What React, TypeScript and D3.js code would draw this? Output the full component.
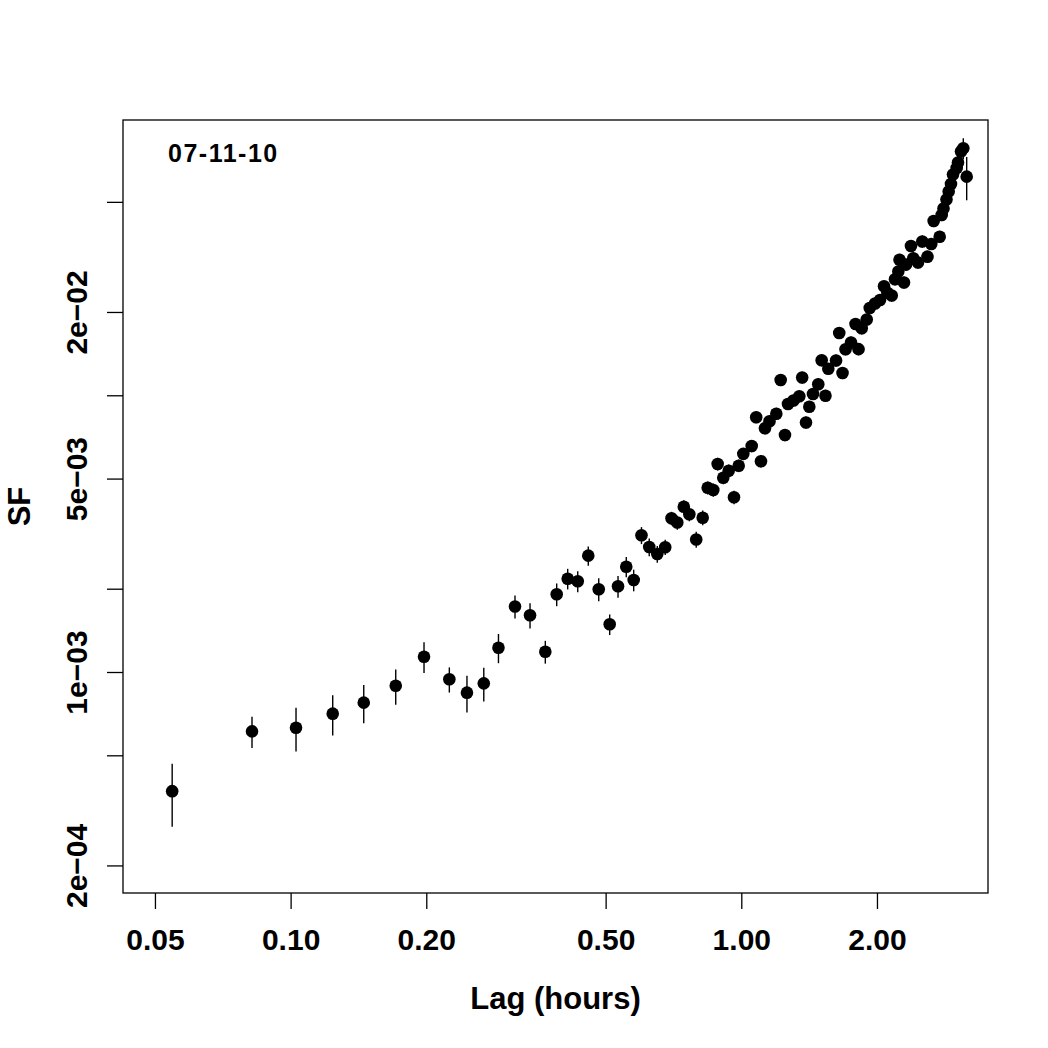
import React, { useEffect, useRef } from 'react';
import * as d3 from 'd3';

// lag in hours, structure function value and its error
const lagHours = [
  0.0546, 0.0821, 0.1028, 0.124, 0.1453, 0.1711, 0.1977, 0.225, 0.2462, 0.2683,
  0.2892, 0.3147, 0.3398, 0.3674, 0.3894, 0.4119, 0.4336, 0.4576, 0.4827, 0.5105,
  0.5327, 0.5556, 0.5771, 0.6005, 0.6248, 0.651, 0.6779, 0.7001, 0.7211, 0.7455,
  0.7668, 0.7943, 0.8211, 0.8423, 0.8667, 0.8862, 0.912, 0.9376, 0.9634, 0.9868,
  1.0103, 1.0546, 1.0791, 1.1058, 1.1287, 1.1551, 1.1959, 1.2229, 1.2501, 1.2694,
  1.3055, 1.3449, 1.365, 1.3918, 1.4155, 1.4425, 1.4818, 1.5078, 1.5374, 1.5597,
  1.6226, 1.6494, 1.6774, 1.7033, 1.7518, 1.7925, 1.8202, 1.8502, 1.8981, 1.9274,
  1.9803, 2.0315, 2.0735, 2.1087, 2.1567, 2.1933, 2.2306, 2.2443, 2.2961, 2.3197,
  2.3797, 2.4078, 2.4663, 2.5211, 2.5889, 2.6397, 2.6722, 2.7555, 2.7838, 2.8096,
  2.853, 2.8852, 2.9193, 2.9493, 3.0056, 3.0256, 3.0724, 3.1087, 3.1631,
];

const sfValues = [
  3.71e-4, 6.1e-4, 6.29e-4, 7.07e-4, 7.75e-4, 8.92e-4, 1.136e-3, 9.41e-4, 8.42e-4, 9.1e-4,
  1.224e-3, 1.725e-3, 1.603e-3, 1.184e-3, 1.909e-3, 2.174e-3, 2.127e-3, 2.633e-3, 1.99e-3, 1.487e-3,
  2.04e-3, 2.402e-3, 2.15e-3, 3.119e-3, 2.829e-3, 2.669e-3, 2.825e-3, 3.592e-3, 3.469e-3, 3.956e-3,
  3.714e-3, 3.012e-3, 3.611e-3, 4.634e-3, 4.546e-3, 5.645e-3, 5.037e-3, 5.339e-3, 4.279e-3, 5.565e-3,
  6.143e-3, 6.555e-3, 8.327e-3, 5.778e-3, 7.6e-3, 8.054e-3, 8.58e-3, 1.1357e-2, 7.188e-3, 9.3e-3,
  9.576e-3, 9.915e-3, 1.1595e-2, 7.975e-3, 9.095e-3, 1.0109e-2, 1.0963e-2, 1.3383e-2, 9.966e-3, 1.2463e-2,
  1.3362e-2, 1.6796e-2, 1.2035e-2, 1.4664e-2, 1.5517e-2, 1.8098e-2, 1.4677e-2, 1.7459e-2, 1.8785e-2, 2.0676e-2,
  2.1466e-2, 2.2101e-2, 2.4768e-2, 2.3484e-2, 2.2944e-2, 2.6252e-2, 2.8015e-2, 3.0903e-2, 2.5562e-2, 2.9648e-2,
  3.4645e-2, 3.1265e-2, 3.019e-2, 3.5963e-2, 3.1686e-2, 3.5226e-2, 4.2651e-2, 3.742e-2, 4.4834e-2, 4.7326e-2,
  5.0991e-2, 5.4525e-2, 5.8022e-2, 6.2806e-2, 6.6299e-2, 6.9396e-2, 7.6043e-2, 7.8096e-2, 6.166e-2,
];

const sfErrors = [
  0.95e-4, 0.79e-4, 1.13e-4, 1.17e-4, 1.22e-4, 1.3e-4, 1.45e-4, 0.98e-4, 1.28e-4, 1.27e-4,
  1.48e-4, 1.65e-4, 1.68e-4, 1.12e-4, 1.8e-4, 1.86e-4, 1.85e-4, 2.1e-4, 1.9e-4, 1.27e-4,
  1.85e-4, 2.0e-4, 1.93e-4, 2.2e-4, 2.1e-4, 1.85e-4, 1.8e-4, 2.0e-4, 2.0e-4, 2.2e-4,
  2.1e-4, 2.0e-4, 2.2e-4, 2.5e-4, 2.5e-4, 3.0e-4, 2.7e-4, 2.8e-4, 2.4e-4, 2.9e-4,
  3.1e-4, 3.3e-4, 4.1e-4, 3.0e-4, 3.8e-4, 4.0e-4, 4.3e-4, 5.6e-4, 3.6e-4, 4.6e-4,
  4.8e-4, 5.0e-4, 5.8e-4, 4.0e-4, 4.5e-4, 5.0e-4, 5.5e-4, 6.7e-4, 5.0e-4, 6.2e-4,
  6.7e-4, 8.4e-4, 6.0e-4, 7.3e-4, 7.8e-4, 9.0e-4, 7.3e-4, 8.7e-4, 9.4e-4, 1.03e-3,
  1.07e-3, 1.1e-3, 1.24e-3, 1.17e-3, 1.15e-3, 1.31e-3, 1.4e-3, 1.55e-3, 1.28e-3, 1.48e-3,
  1.73e-3, 1.56e-3, 1.51e-3, 1.8e-3, 1.58e-3, 1.76e-3, 2.13e-3, 1.87e-3, 2.24e-3, 2.37e-3,
  2.55e-3, 2.73e-3, 2.9e-3, 3.14e-3, 3.6e-3, 4.0e-3, 4.6e-3, 6.8e-3, 1.1e-2,
];

const xLimits = [0.04247, 3.527];
const yLimits = [1.59e-4, 0.0988];
const xTicks = [0.05, 0.1, 0.2, 0.5, 1, 2];
const xTickLabels = ['0.05', '0.10', '0.20', '0.50', '1.00', '2.00'];
const yTicks = [2e-4, 5e-4, 1e-3, 2e-3, 5e-3, 1e-2, 2e-2, 5e-2];
const yTickLabels = ['2e\u221204', '', '1e\u221203', '', '5e\u221203', '', '2e\u221202', ''];

const plotTag = '07-11-10';
const xTitle = 'Lag (hours)';
const yTitle = 'SF';

function App() {
  const svgRef = useRef(null);

  useEffect(() => {
    const width = 1048;
    const height = 1048;
    const margin = { top: 120, right: 60, bottom: 155, left: 123 };
    const font = '"Liberation Sans", Arial, Helvetica, sans-serif';

    const svg = d3.select(svgRef.current);
    svg.selectAll('*').remove();
    svg.attr('width', width).attr('height', height);

    svg.append('rect')
      .attr('width', width)
      .attr('height', height)
      .attr('fill', '#fff');

    const x = d3.scaleLog()
      .domain(xLimits)
      .range([margin.left, width - margin.right]);

    const y = d3.scaleLog()
      .domain(yLimits)
      .range([height - margin.bottom, margin.top]);

    const data = lagHours.map((d, i) => ({ x: d, y: sfValues[i], e: sfErrors[i] }));

    // error bars
    svg.append('g')
      .selectAll('line')
      .data(data)
      .enter()
      .append('line')
      .attr('x1', d => x(d.x))
      .attr('x2', d => x(d.x))
      .attr('y1', d => y(d.y + d.e))
      .attr('y2', d => y(Math.max(d.y - d.e, yLimits[0])))
      .attr('stroke', '#000')
      .attr('stroke-width', 1.4);

    svg.append('g')
      .selectAll('circle')
      .data(data)
      .enter()
      .append('circle')
      .attr('cx', d => x(d.x))
      .attr('cy', d => y(d.y))
      .attr('r', 6.3)
      .attr('fill', '#000');

    // box
    svg.append('rect')
      .attr('x', margin.left)
      .attr('y', margin.top)
      .attr('width', width - margin.left - margin.right)
      .attr('height', height - margin.top - margin.bottom)
      .attr('fill', 'none')
      .attr('stroke', '#000')
      .attr('stroke-width', 1.3);

    const xAxis = svg.append('g')
      .attr('transform', `translate(0,${height - margin.bottom})`)
      .call(d3.axisBottom(x)
        .tickValues(xTicks)
        .tickFormat((d, i) => xTickLabels[i])
        .tickSize(16)
        .tickPadding(20));
    xAxis.select('.domain').remove();
    xAxis.selectAll('line').attr('stroke-width', 1.3);
    xAxis.selectAll('text')
      .attr('font-family', font)
      .attr('font-weight', 'bold')
      .attr('font-size', 30)
      .attr('fill', '#000');

    const yAxis = svg.append('g')
      .attr('transform', `translate(${margin.left},0)`)
      .call(d3.axisLeft(y)
        .tickValues(yTicks)
        .tickFormat((d, i) => yTickLabels[i])
        .tickSize(16)
        .tickPadding(0));
    yAxis.select('.domain').remove();
    yAxis.selectAll('line').attr('stroke-width', 1.3);
    yAxis.selectAll('text')
      .attr('x', null)
      .attr('dy', null)
      .attr('transform', 'translate(-36,0) rotate(-90)')
      .attr('text-anchor', 'middle')
      .attr('font-family', font)
      .attr('font-weight', 'bold')
      .attr('font-size', 30)
      .attr('fill', '#000');

    svg.append('text')
      .attr('x', (margin.left + width - margin.right) / 2)
      .attr('y', 1009)
      .attr('text-anchor', 'middle')
      .attr('font-family', font)
      .attr('font-weight', 'bold')
      .attr('font-size', 31)
      .text(xTitle);

    svg.append('text')
      .attr('transform', `translate(30,${(margin.top + height - margin.bottom) / 2}) rotate(-90)`)
      .attr('text-anchor', 'middle')
      .attr('font-family', font)
      .attr('font-weight', 'bold')
      .attr('font-size', 31)
      .text(yTitle);

    svg.append('text')
      .attr('x', 168)
      .attr('y', 162)
      .attr('font-family', font)
      .attr('font-weight', 'bold')
      .attr('font-size', 25)
      .attr('letter-spacing', 1.5)
      .text(plotTag);
  }, []);

  return (
    <div style={{ position: 'absolute', left: 0, top: 0 }}>
      <svg ref={svgRef}></svg>
    </div>
  );
}

export default App;
